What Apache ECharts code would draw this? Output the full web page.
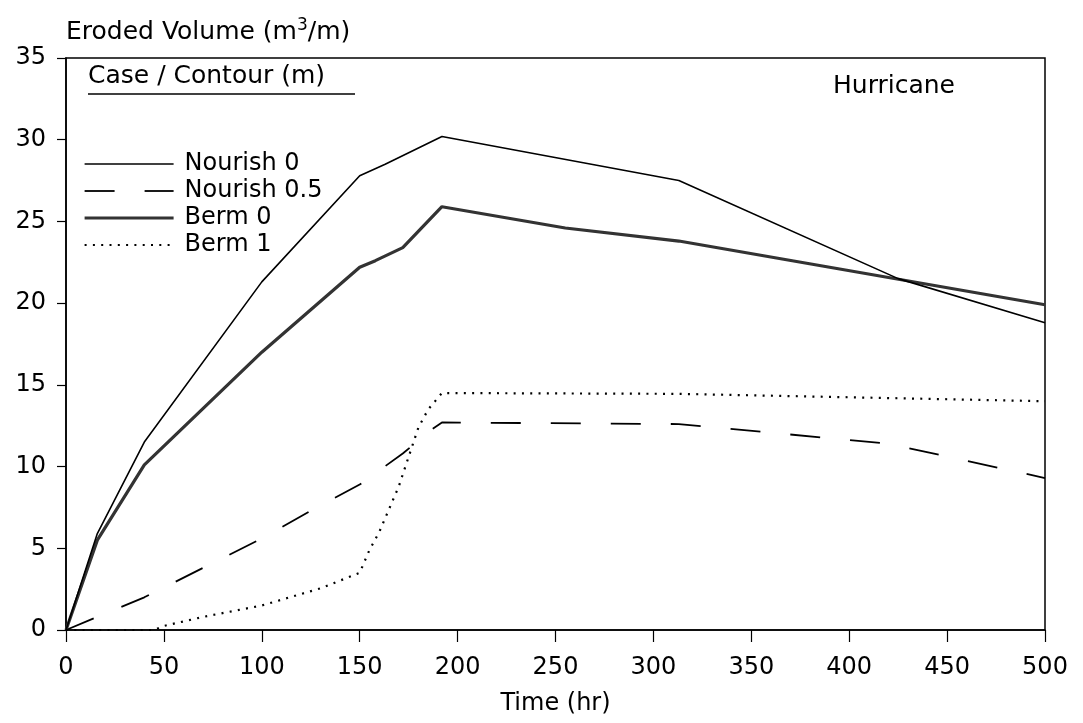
<!DOCTYPE html>
<html>
<head>
<meta charset="utf-8">
<script src="https://cdn.jsdelivr.net/npm/echarts@6/dist/echarts.min.js"></script>
<style>
html,body{margin:0;padding:0;background:#fff;}
#chart{width:1083px;height:723px;}
</style>
</head>
<body>
<div id="chart"></div>
<script>
// ---- data ----
var seriesNames = ['Nourish 0', 'Nourish 0.5', 'Berm 0', 'Berm 1'];

var nourish0T = [0, 16, 40, 100, 150, 163, 192, 313, 425, 500];
var nourish0V = [0, 5.9, 11.5, 21.3, 27.8, 28.5, 30.2, 27.5, 21.5, 18.8];

var nourish05T = [0, 16, 40, 70, 100, 125, 150, 172, 186, 192, 313, 420, 500];
var nourish05V = [0, 0.8, 2.0, 3.8, 5.6, 7.3, 8.9, 10.8, 12.2, 12.7, 12.6, 11.4, 9.3];

var berm0T = [0, 16, 40, 100, 150, 158, 172, 192, 255, 313, 500];
var berm0V = [0, 5.5, 10.1, 17.0, 22.2, 22.6, 23.4, 25.9, 24.6, 23.8, 19.9];

var berm1T = [0, 45, 50, 70, 100, 130, 150, 155, 160, 165, 170, 175, 180, 185, 192, 313, 500];
var berm1V = [0, 0, 0.25, 0.8, 1.5, 2.55, 3.5, 4.9, 6.0, 7.4, 8.8, 10.6, 12.4, 13.5, 14.5, 14.45, 14.0];

var xTicks = [0, 50, 100, 150, 200, 250, 300, 350, 400, 450, 500];
var yTicks = [0, 5, 10, 15, 20, 25, 30, 35];

var yAxisTitle = 'Eroded Volume (m';
var legendTitle = 'Case / Contour (m)';
var noteText = 'Hurricane';
var xAxisTitle = 'Time (hr)';

function pairs(t, v) { return t.map(function (x, i) { return [x, v[i]]; }); }

var FONT = 'DejaVu Sans';
var chart = echarts.init(document.getElementById('chart'), null, {renderer: 'canvas'});

var lineStyles = [
  {color: '#000', width: 1.6, type: 'solid'},
  {color: '#000', width: 1.8, type: [30, 30]},
  {color: '#333', width: 3.2, type: 'solid'},
  {color: '#000', width: 2.2, type: [2, 6.3]}
];

var option = {
  backgroundColor: '#fff',
  animation: false,
  textStyle: {fontFamily: FONT, color: '#000'},
  grid: {left: 66, right: 38, top: 58, bottom: 93, show: true, borderColor: '#000', borderWidth: 1.5, backgroundColor: 'transparent'},
  xAxis: {
    type: 'value', min: xTicks[0], max: xTicks[xTicks.length - 1], interval: 50,
    name: xAxisTitle, nameLocation: 'middle', nameGap: 62,
    nameTextStyle: {fontFamily: FONT, fontSize: 24, color: '#000'},
    axisLine: {show: true, lineStyle: {color: '#000', width: 1.5}},
    axisTick: {show: true, inside: false, length: 12, lineStyle: {color: '#000', width: 1.2}},
    axisLabel: {fontFamily: FONT, fontSize: 24, color: '#000', margin: 26},
    splitLine: {show: false}
  },
  yAxis: {
    type: 'value', min: yTicks[0], max: yTicks[yTicks.length - 1], interval: 5,
    name: '{t|' + yAxisTitle + '}{s|3}{t|/m)}', nameLocation: 'end', nameGap: 13,
    nameTextStyle: {
      align: 'left', verticalAlign: 'bottom',
      rich: {
        t: {fontFamily: FONT, fontSize: 25, color: '#000', verticalAlign: 'bottom', lineHeight: 28},
        s: {fontFamily: FONT, fontSize: 17, color: '#000', verticalAlign: 'top', padding: [0, 0, 13, 0], lineHeight: 28}
      }
    },
    axisLine: {show: true, lineStyle: {color: '#000', width: 1.5}},
    axisTick: {show: true, inside: false, length: 9, lineStyle: {color: '#000', width: 1.2}},
    axisLabel: {fontFamily: FONT, fontSize: 24, color: '#000', margin: 20},
    splitLine: {show: false}
  },
  legend: {
    data: seriesNames.map(function (n, i) { return {name: n, lineStyle: lineStyles[i]}; }),
    orient: 'vertical', left: 78, top: 147,
    itemWidth: 89, itemHeight: 14, itemGap: 3,
    itemStyle: {opacity: 0},
    textStyle: {fontFamily: FONT, fontSize: 24, lineHeight: 24, color: '#000', padding: [0, 0, 0, 6]},
    inactiveColor: '#000'
  },
  graphic: [
    {type: 'text', left: 88, top: 64, style: {text: legendTitle, fontFamily: FONT, fontSize: 25, fill: '#000'}},
    {type: 'line', shape: {x1: 88, y1: 94, x2: 355, y2: 94}, style: {stroke: '#000', lineWidth: 1.5}},
    {type: 'text', left: 833, top: 74, style: {text: noteText, fontFamily: FONT, fontSize: 25, fill: '#000'}}
  ],
  series: [
    {name: seriesNames[0], type: 'line', data: pairs(nourish0T, nourish0V), symbol: 'none', z: 4,
     lineStyle: lineStyles[0], itemStyle: {color: '#000'}},
    {name: seriesNames[1], type: 'line', data: pairs(nourish05T, nourish05V), symbol: 'none', z: 3,
     lineStyle: lineStyles[1], itemStyle: {color: '#000'}},
    {name: seriesNames[2], type: 'line', data: pairs(berm0T, berm0V), symbol: 'none', z: 3,
     lineStyle: lineStyles[2], itemStyle: {color: '#333'}},
    {name: seriesNames[3], type: 'line', data: pairs(berm1T, berm1V), symbol: 'none', z: 3,
     lineStyle: lineStyles[3], itemStyle: {color: '#000'}}
  ]
};
chart.setOption(option);
</script>
</body>
</html>
